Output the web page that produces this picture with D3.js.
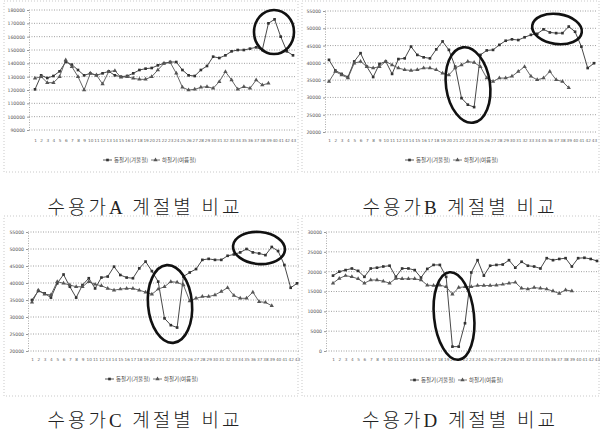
<!DOCTYPE html>
<html>
<head>
<meta charset="utf-8">
<script src="https://cdn.jsdelivr.net/npm/d3@7"></script>
<style>
  html, body { margin: 0; padding: 0; background: #fff; }
  svg { display: block; }
</style>
</head>
<body>
<svg id="chart" width="600" height="436"></svg>
<script>
// Day index shared by all four consumers
const days = d3.range(1, 44);

// Legend labels for the two seasonal series
const seriesNames = ["동절기(겨울철)", "하절기(여름철)"];

// Panel captions
const captions = ["수용가A 계절별 비교", "수용가B 계절별 비교", "수용가C 계절별 비교", "수용가D 계절별 비교"];

// Y tick values per consumer
const ticksA = [180000, 170000, 160000, 150000, 140000, 130000, 120000, 110000, 100000, 90000];
const ticksB = [55000, 50000, 45000, 40000, 35000, 30000, 25000, 20000];
const ticksC = [55000, 50000, 45000, 40000, 35000, 30000, 25000, 20000];
const ticksD = [30000, 25000, 20000, 15000, 10000, 5000, 0];

// Consumer A
const winterA = [120500, 131000, 129000, 130500, 134000, 141000, 139000, 135000, 131000, 132500, 131000, 132500, 134000, 131000, 130000, 130500, 132500, 135000, 136000, 136500, 138500, 140000, 141000, 141000, 135000, 131000, 130500, 135000, 138000, 145000, 144000, 146000, 149000, 150000, 150000, 151000, 152000, 150000, 170000, 173000, 160000, 149000, 146000];
const summerA = [128750, 130000, 125500, 125500, 130000, 142500, 137500, 130000, 120000, 132500, 131250, 124500, 133750, 134500, 129500, 130000, 128750, 128000, 128000, 130000, 135000, 140000, 140750, 132500, 122000, 120000, 120500, 122000, 122500, 121250, 126250, 133750, 127500, 120500, 122500, 121250, 127500, 123750, 125000];

// Consumer B
const winterB = [40870, 37800, 36800, 35900, 40400, 42800, 38900, 35900, 39700, 40400, 36800, 41100, 41300, 44700, 42300, 41600, 41300, 43900, 46200, 43750, 38900, 29800, 27900, 27200, 42300, 43600, 43750, 45200, 46400, 46800, 46600, 47400, 48100, 48400, 49700, 48800, 48600, 48600, 50500, 49000, 44700, 38500, 39900];
const summerB = [34600, 37500, 36500, 35600, 39900, 40400, 38900, 38500, 38900, 40400, 39400, 38500, 38000, 37800, 38000, 38500, 38500, 38000, 37000, 36500, 38500, 39400, 40400, 40100, 38900, 35600, 34600, 35600, 35600, 36100, 37500, 38900, 36100, 35100, 35600, 37500, 35100, 34600, 32800];

// Consumer C
const winterC = [35000, 37650, 36960, 35700, 39900, 42500, 38900, 35700, 39400, 41400, 38400, 41600, 41900, 44800, 42350, 41600, 41400, 44300, 46300, 43500, 40400, 29600, 27600, 26900, 41900, 43100, 44100, 46800, 47100, 46800, 46800, 48000, 48400, 49000, 50000, 49000, 48700, 48200, 50600, 49400, 45300, 38600, 39900];
const summerC = [34300, 37900, 36700, 36500, 40400, 39900, 39400, 38900, 38900, 40400, 39600, 39200, 38400, 37900, 38200, 38400, 38400, 37900, 37300, 36700, 38200, 38900, 40400, 40200, 39400, 34700, 35500, 36000, 36000, 36500, 37500, 38600, 36300, 35500, 35500, 37300, 34500, 34300, 33300];

// Consumer D
const winterD = [19000, 20000, 20400, 20800, 20200, 18700, 20800, 21000, 21300, 21500, 18700, 20800, 20800, 20400, 18500, 20700, 21700, 21700, 18700, 1100, 1100, 7000, 19800, 22900, 19000, 21500, 21700, 21800, 22900, 21000, 22500, 21500, 21300, 20800, 23400, 22900, 23200, 23400, 21300, 23400, 23500, 23200, 22700];
const summerD = [17100, 18300, 19000, 18700, 18200, 17100, 17900, 17900, 17600, 17100, 18300, 18200, 18200, 18200, 17900, 16600, 16500, 16600, 16200, 14300, 16000, 16200, 16200, 16500, 16500, 16500, 16600, 16800, 17100, 17300, 15800, 15600, 16000, 15800, 15600, 15100, 14500, 15400, 15100];

// Panel geometry and highlight ellipses (drawing layout)
const panels = [
  { ticks: ticksA, s1: winterA, s2: summerA, caption: captions[0],
    frame: [4, 1, 294, 171], x: [35, 293], y: [10, 130], axisX: 29, dayY: 143, legendY: 160, legendX: 148,
    capX: 145, capY: 214,
    rings: [{ cx: 274, cy: 32, rx: 20, ry: 22, rot: 0 }] },
  { ticks: ticksB, s1: winterB, s2: summerB, caption: captions[1],
    frame: [302, 1, 297, 171], x: [329, 594], y: [11, 132], axisX: 325, dayY: 143, legendY: 160, legendX: 450,
    capX: 460, capY: 214,
    rings: [{ cx: 468, cy: 85, rx: 22, ry: 38, rot: -8 }, { cx: 557, cy: 29, rx: 25, ry: 15, rot: 8 }] },
  { ticks: ticksC, s1: winterC, s2: summerC, caption: captions[2],
    frame: [4, 216, 294, 180], x: [32, 297], y: [232, 351], axisX: 28, dayY: 362, legendY: 379, legendX: 150,
    capX: 145, capY: 427,
    rings: [{ cx: 170, cy: 304, rx: 22, ry: 39, rot: -5 }, { cx: 259, cy: 248, rx: 26, ry: 16, rot: 5 }] },
  { ticks: ticksD, s1: winterD, s2: summerD, caption: captions[3],
    frame: [302, 216, 297, 180], x: [333, 597], y: [232, 351], axisX: 326, dayY: 362, legendY: 380, legendX: 455,
    capX: 460, capY: 427,
    rings: [{ cx: 454, cy: 316, rx: 20, ry: 44, rot: -6 }] }
];

const svg = d3.select("#chart");

panels.forEach(p => {
  const g = svg.append("g");

  // faint dotted frame around the panel
  g.append("rect")
    .attr("x", p.frame[0]).attr("y", p.frame[1])
    .attr("width", p.frame[2]).attr("height", p.frame[3])
    .attr("fill", "none").attr("stroke", "#bbb").attr("stroke-width", 0.8)
    .attr("stroke-dasharray", "1,2");

  const x = d3.scalePoint().domain(days).range(p.x);
  const y = d3.scaleLinear().domain([d3.min(p.ticks), d3.max(p.ticks)]).range([p.y[1], p.y[0]]);

  // dotted horizontal gridlines
  g.append("g").selectAll("line").data(p.ticks).join("line")
    .attr("x1", p.axisX).attr("x2", p.x[1] + 2)
    .attr("y1", d => y(d)).attr("y2", d => y(d))
    .attr("stroke", "#888").attr("stroke-width", 0.8).attr("stroke-dasharray", "1,1.5");

  // y axis with small tick labels
  const yAxis = d3.axisLeft(y).tickValues(p.ticks).tickSize(2).tickPadding(2).tickFormat(d3.format("d"));
  const ya = g.append("g").attr("transform", `translate(${p.axisX},0)`).call(yAxis);
  ya.select(".domain").attr("stroke", "#aaa").attr("stroke-dasharray", "1,1.5");
  ya.selectAll(".tick line").attr("stroke", "#999");
  ya.selectAll("text").attr("font-family", "DejaVu Sans").attr("font-size", 4.6).attr("fill", "#555");

  // x axis day labels
  const xAxis = d3.axisBottom(x).tickSize(0).tickPadding(0);
  const xa = g.append("g").attr("transform", `translate(0,${p.dayY - 4})`).call(xAxis);
  xa.select(".domain").remove();
  xa.selectAll("text").attr("font-family", "DejaVu Sans").attr("font-size", 4.2).attr("fill", "#666")
    .attr("dy", "0.7em");

  const line = d3.line().x((d, i) => x(days[i])).y(d => y(d));

  const styles = [
    { data: p.s1, color: "#333", sym: d3.symbolSquare, size: 7 },
    { data: p.s2, color: "#555", sym: d3.symbolTriangle, size: 8 }
  ];

  styles.forEach(s => {
    g.append("path").datum(s.data)
      .attr("d", line).attr("fill", "none")
      .attr("stroke", s.color).attr("stroke-width", 0.9);
    g.append("g").selectAll("path").data(s.data).join("path")
      .attr("transform", (d, i) => `translate(${x(days[i])},${y(d)})`)
      .attr("d", d3.symbol().type(s.sym).size(s.size))
      .attr("fill", s.color);
  });

  // highlight rings around the notable spans
  g.append("g").selectAll("ellipse").data(p.rings).join("ellipse")
    .attr("cx", r => r.cx).attr("cy", r => r.cy)
    .attr("rx", r => r.rx).attr("ry", r => r.ry)
    .attr("transform", r => `rotate(${r.rot},${r.cx},${r.cy})`)
    .attr("fill", "none").attr("stroke", "#111").attr("stroke-width", 2.6);

  // legend
  const lg = g.append("g").attr("transform", `translate(${p.legendX - 45},${p.legendY})`);
  styles.forEach((s, i) => {
    const item = lg.append("g").attr("transform", `translate(${i * 48},0)`);
    item.append("line").attr("x1", 0).attr("x2", 9).attr("y1", 0).attr("y2", 0)
      .attr("stroke", s.color).attr("stroke-width", 0.8);
    item.append("path").attr("transform", "translate(4.5,0)")
      .attr("d", d3.symbol().type(s.sym).size(s.size)).attr("fill", s.color);
    item.append("text").attr("x", 11).attr("y", 2)
      .attr("font-family", "Noto Sans CJK KR").attr("font-size", 5.5).attr("fill", "#444")
      .text(seriesNames[i]);
  });

  // caption under the panel
  svg.append("text")
    .attr("x", p.capX).attr("y", p.capY)
    .attr("text-anchor", "middle")
    .attr("font-family", "Liberation Serif, 'Noto Sans CJK KR'")
    .attr("font-size", 19).attr("font-weight", 300)
    .attr("letter-spacing", 3)
    .attr("fill", "#222")
    .text(p.caption);
});
</script>
</body>
</html>
